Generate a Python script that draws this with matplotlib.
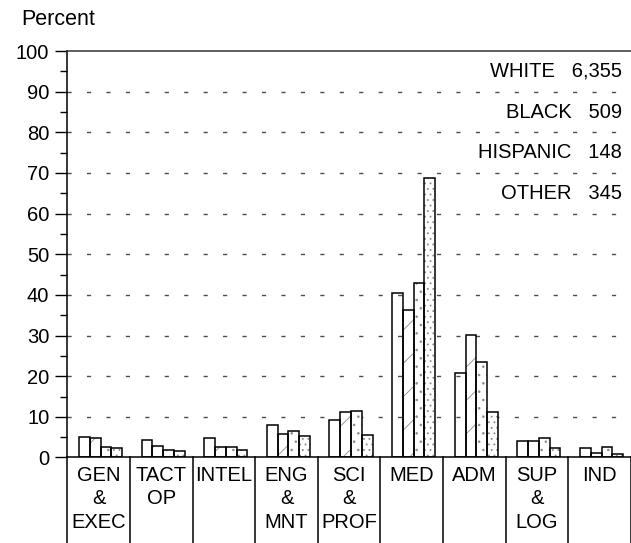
import numpy as np
import matplotlib
matplotlib.use("Agg")
import matplotlib.pyplot as plt
from matplotlib.ticker import MultipleLocator

categories = ["GEN\n&\nEXEC", "TACT\nOP", "INTEL", "ENG\n&\nMNT", "SCI\n&\nPROF",
              "MED", "ADM", "SUP\n&\nLOG", "IND"]
groups = ["WHITE", "BLACK", "HISPANIC", "OTHER"]
group_counts = ["6,355", "509", "148", "345"]

white = [5.1, 4.3, 4.7, 7.95, 9.3, 40.5, 20.8, 4.1, 2.4]
black = [4.7, 2.8, 2.5, 5.8, 11.2, 36.4, 30.1, 4.1, 1.0]
hispanic = [2.6, 1.85, 2.5, 6.6, 11.4, 43.0, 23.4, 4.7, 2.7]
other = [2.4, 1.7, 1.85, 5.3, 5.6, 68.8, 11.2, 2.3, 0.9]

hatches = [None, "/", "..", "..."]

plt.rcParams["font.family"] = ["Liberation Sans", "DejaVu Sans"]
plt.rcParams["hatch.linewidth"] = 0.6


def draw():
    fig = plt.figure(figsize=(6.31, 5.43), dpi=100)
    ax = fig.add_axes([0.1067, 0.1575, 0.8933, 0.7485])

    x = np.arange(len(categories))
    width = 0.172
    series = [white, black, hispanic, other]
    for i, vals in enumerate(series):
        pos = x + 0.03 + (i - 1.5) * width
        # hatch in grey first, then the black outline on top
        if hatches[i]:
            ax.bar(pos, vals, width, color="white", edgecolor="0.55",
                   hatch=hatches[i], linewidth=0, zorder=2)
        ax.bar(pos, vals, width, fill=False, edgecolor="black",
               linewidth=1.1, zorder=3)

    ax.set_xlim(-0.5, len(categories) - 0.5)
    ax.set_ylim(0, 100)
    ax.yaxis.set_major_locator(MultipleLocator(10))
    ax.yaxis.set_minor_locator(MultipleLocator(5))
    ax.tick_params(axis="y", which="major", length=9, width=1, pad=4,
                   labelsize=14.5, direction="out")
    ax.tick_params(axis="y", which="minor", length=5, width=1, direction="out")

    ax.set_xticks(x)
    ax.set_xticklabels(categories, fontsize=14.5, linespacing=1.3)
    ax.tick_params(axis="x", length=0, pad=6)

    for yv in range(10, 100, 10):
        ax.axhline(yv, color="0.3", linewidth=1, linestyle=(0, (3, 11)), zorder=1)

    ax.spines["right"].set_visible(False)
    ax.spines["left"].set_linewidth(1.1)
    ax.spines["bottom"].set_linewidth(1.1)
    ax.spines["top"].set_linewidth(1.1)
    ax.spines["top"].set_color("0.2")

    # boxes under the axis for the category names
    for b in np.arange(-0.5, len(categories) + 0.5, 1.0):
        ax.plot([b, b], [0, -21], color="black", linewidth=1.1,
                clip_on=False, zorder=3)

    for k, (g, n) in enumerate(zip(groups, group_counts)):
        ax.text(8.36, 95 - 10 * k, f"{g}   {n}", ha="right", va="center",
                fontsize=14.5, zorder=4)

    fig.text(0.034, 0.965, "Percent", fontsize=15.5, ha="left", va="center")

    fig.savefig("out.png", dpi=100)


if __name__ == "__main__":
    draw()
